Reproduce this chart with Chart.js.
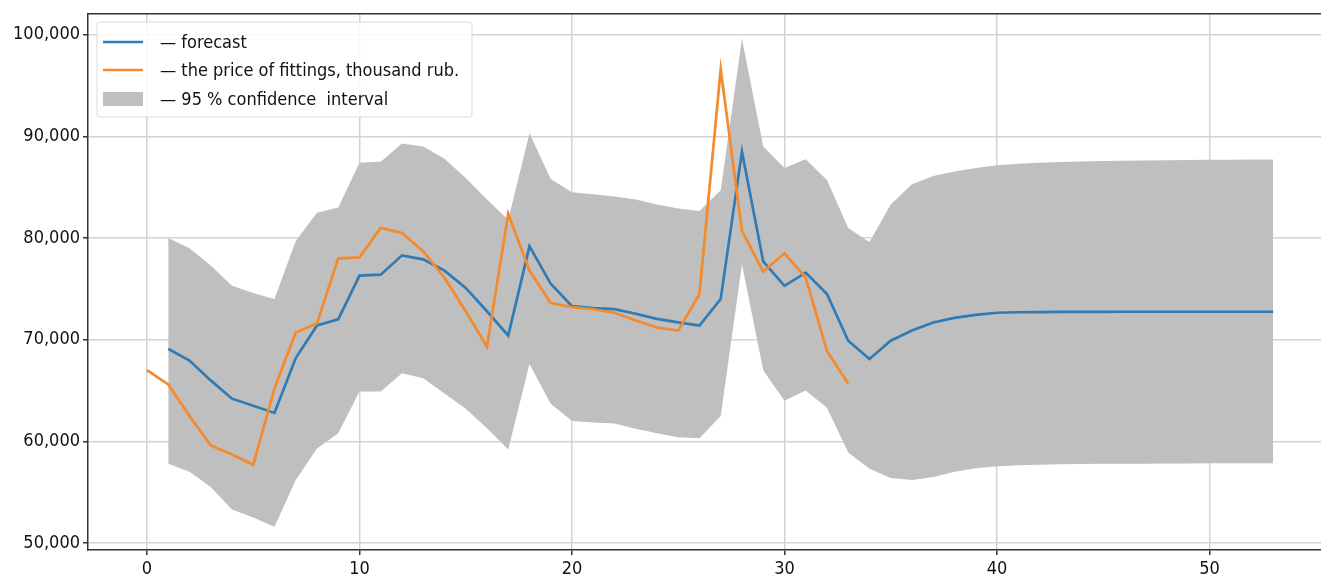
<!DOCTYPE html>
<html>
<head>
<meta charset="utf-8">
<script src="https://cdn.jsdelivr.net/npm/chart.js@4.4.1/dist/chart.umd.min.js"></script>
<style>
  html, body { margin: 0; padding: 0; background: #fff; }
  #wrap { width: 1321px; height: 581px; position: relative; }
</style>
</head>
<body>
<div id="wrap"><canvas id="chart"></canvas></div>
<script>
// Data
// ----------------------------------------------
const xTicks = [0, 10, 20, 30, 40, 50];
const yTicks = [50000, 60000, 70000, 80000, 90000, 100000];

const priceStart = 0;
const price = [
    67000, 65600, 62500, 59600, 58700, 57700, 65200, 70700, 71600, 78000,
    78100, 81000, 80500, 78700, 76100, 72800, 69300, 82400, 76800, 73600,
    73200, 73000, 72650, 71900, 71200, 70900, 74500, 96600, 80700, 76700,
    78500, 76100, 68900, 65700
];

const forecastStart = 1;
const forecast = [
    69100, 67950, 66000, 64200, 63500, 62800, 68200, 71400, 72000, 76300,
    76400, 78300, 77900, 76800, 75100, 72800, 70400, 79200, 75500, 73300,
    73100, 73000, 72550, 72050, 71700, 71400, 74000, 88500, 77700, 75300,
    76600, 74500, 69900, 68100, 69900, 70900, 71700, 72150, 72450, 72650,
    72700, 72720, 72730, 72740, 72745, 72750, 72750, 72750, 72750, 72750,
    72750, 72750, 72750
];
const upper = [
    80000, 79000, 77300, 75300, 74600, 74000, 79700, 82500, 83000, 87400,
    87500, 89300, 89000, 87800, 85900, 83800, 81800, 90300, 85800, 84500,
    84300, 84100, 83800, 83300, 82900, 82650, 84700, 99600, 89000, 86900,
    87750, 85700, 81000, 79600, 83300, 85300, 86100, 86550, 86900, 87150,
    87300, 87400, 87480, 87540, 87580, 87610, 87640, 87660, 87680, 87700,
    87710, 87720, 87730
];
const lower = [
    57800, 57000, 55500, 53300, 52500, 51600, 56200, 59300, 60800, 64900,
    64900, 66700, 66200, 64700, 63200, 61300, 59200, 67600, 63700, 62000,
    61850, 61750, 61250, 60800, 60400, 60300, 62500, 77400, 67000, 64000,
    65000, 63300, 58900, 57300, 56400, 56200, 56500, 57000, 57350, 57550,
    57650, 57700, 57740, 57770, 57790, 57800, 57810, 57820, 57830, 57840,
    57850, 57850, 57850
];

const labels = {
    forecast: '— forecast',
    price: '— the price of fittings, thousand rub.',
    band: '— 95 % confidence  interval'
};

const blueColor   = '#2f7bb6';
const orangeColor = '#f48a2c';
const bandColor   = '#bfbfbf';
const gridColor   = '#d4d4d4';
const spineColor  = '#333333';
const fontFamily  = '"Liberation Sans Narrow", "DejaVu Sans Condensed", Arial, sans-serif';

let toPoints = (start, arr) => arr.map((v, i) => ({ x: start + i, y: v }));


// Legend box drawn inside the plot, like the original
// ----------------------------------------------
const boxLegend = {
    id: 'boxLegend',
    afterDatasetsDraw(chart) {
        const ctx = chart.ctx;
        const x0 = 97, y0 = 22, w = 375, h = 95;
        ctx.save();
        ctx.fillStyle = 'rgba(255,255,255,0.85)';
        ctx.strokeStyle = '#dcdcdc';
        ctx.lineWidth = 1;
        ctx.beginPath();
        ctx.roundRect(x0, y0, w, h, 3);
        ctx.fill();
        ctx.stroke();

        const rows = [
            { y: 42, text: labels.forecast, color: blueColor, kind: 'line' },
            { y: 70, text: labels.price, color: orangeColor, kind: 'line' },
            { y: 99, text: labels.band, color: bandColor, kind: 'box' }
        ];
        rows.forEach(r => {
            if (r.kind === 'line') {
                ctx.strokeStyle = r.color;
                ctx.lineWidth = 2.7;
                ctx.beginPath();
                ctx.moveTo(103, r.y);
                ctx.lineTo(143, r.y);
                ctx.stroke();
            } else {
                ctx.fillStyle = r.color;
                ctx.fillRect(103, r.y - 7, 40, 14);
            }
            ctx.fillStyle = '#111';
            ctx.font = '18px ' + fontFamily;
            ctx.textBaseline = 'middle';
            ctx.fillText(r.text, 160, r.y + 1);
        });
        ctx.restore();
    }
};

// Top spine
const topSpine = {
    id: 'topSpine',
    afterDraw(chart) {
        const { ctx, chartArea } = chart;
        ctx.save();
        ctx.strokeStyle = spineColor;
        ctx.lineWidth = 1.5;
        ctx.beginPath();
        ctx.moveTo(chartArea.left, chartArea.top);
        ctx.lineTo(chartArea.right, chartArea.top);
        ctx.stroke();
        ctx.restore();
    }
};


document.addEventListener('DOMContentLoaded', () => {

    new Chart(document.getElementById('chart'), {
        type: 'line',
        data: {
            datasets: [
                {
                    label: labels.price,
                    data: toPoints(priceStart, price),
                    borderColor: orangeColor,
                    borderWidth: 2.7,
                    pointRadius: 0,
                    fill: false,
                    order: 1
                },
                {
                    label: labels.forecast,
                    data: toPoints(forecastStart, forecast),
                    borderColor: blueColor,
                    borderWidth: 2.7,
                    pointRadius: 0,
                    fill: false,
                    order: 2
                },
                {
                    label: labels.band,
                    data: toPoints(forecastStart, upper),
                    borderWidth: 0,
                    borderColor: 'transparent',
                    backgroundColor: bandColor,
                    pointRadius: 0,
                    fill: '+1',
                    order: 3
                },
                {
                    label: 'lower',
                    data: toPoints(forecastStart, lower),
                    borderWidth: 0,
                    borderColor: 'transparent',
                    pointRadius: 0,
                    fill: false,
                    order: 4
                }
            ]
        },
        options: {
            responsive: true,
            maintainAspectRatio: false,
            animation: false,
            layout: { padding: { top: 12, left: 0, right: 0, bottom: 0 } },
            plugins: {
                legend: { display: false },
                tooltip: { enabled: false }
            },
            scales: {
                x: {
                    type: 'linear',
                    min: -2.776,
                    max: 55.25,
                    afterBuildTicks: s => { s.ticks = xTicks.map(v => ({ value: v })); },
                    afterFit: s => { s.height = 31; },
                    grid: {
                        color: gridColor,
                        lineWidth: 1.5,
                        tickColor: spineColor,
                        tickLength: 5
                    },
                    border: { display: true, color: spineColor, width: 1.5 },
                    ticks: {
                        color: '#111',
                        padding: 4,
                        maxRotation: 0,
                        font: { size: 18, family: fontFamily }
                    }
                },
                y: {
                    min: 49314,
                    max: 102060,
                    afterBuildTicks: s => { s.ticks = yTicks.map(v => ({ value: v })); },
                    afterFit: s => { s.width = 88; },
                    grid: {
                        color: gridColor,
                        lineWidth: 1.5,
                        tickColor: spineColor,
                        tickLength: 5
                    },
                    border: { display: true, color: spineColor, width: 1.5 },
                    ticks: {
                        color: '#111',
                        padding: 3,
                        font: { size: 18, family: fontFamily },
                        callback: v => v.toLocaleString('en-US')
                    }
                }
            }
        },
        plugins: [boxLegend, topSpine]
    });

});
</script>
</body>
</html>
